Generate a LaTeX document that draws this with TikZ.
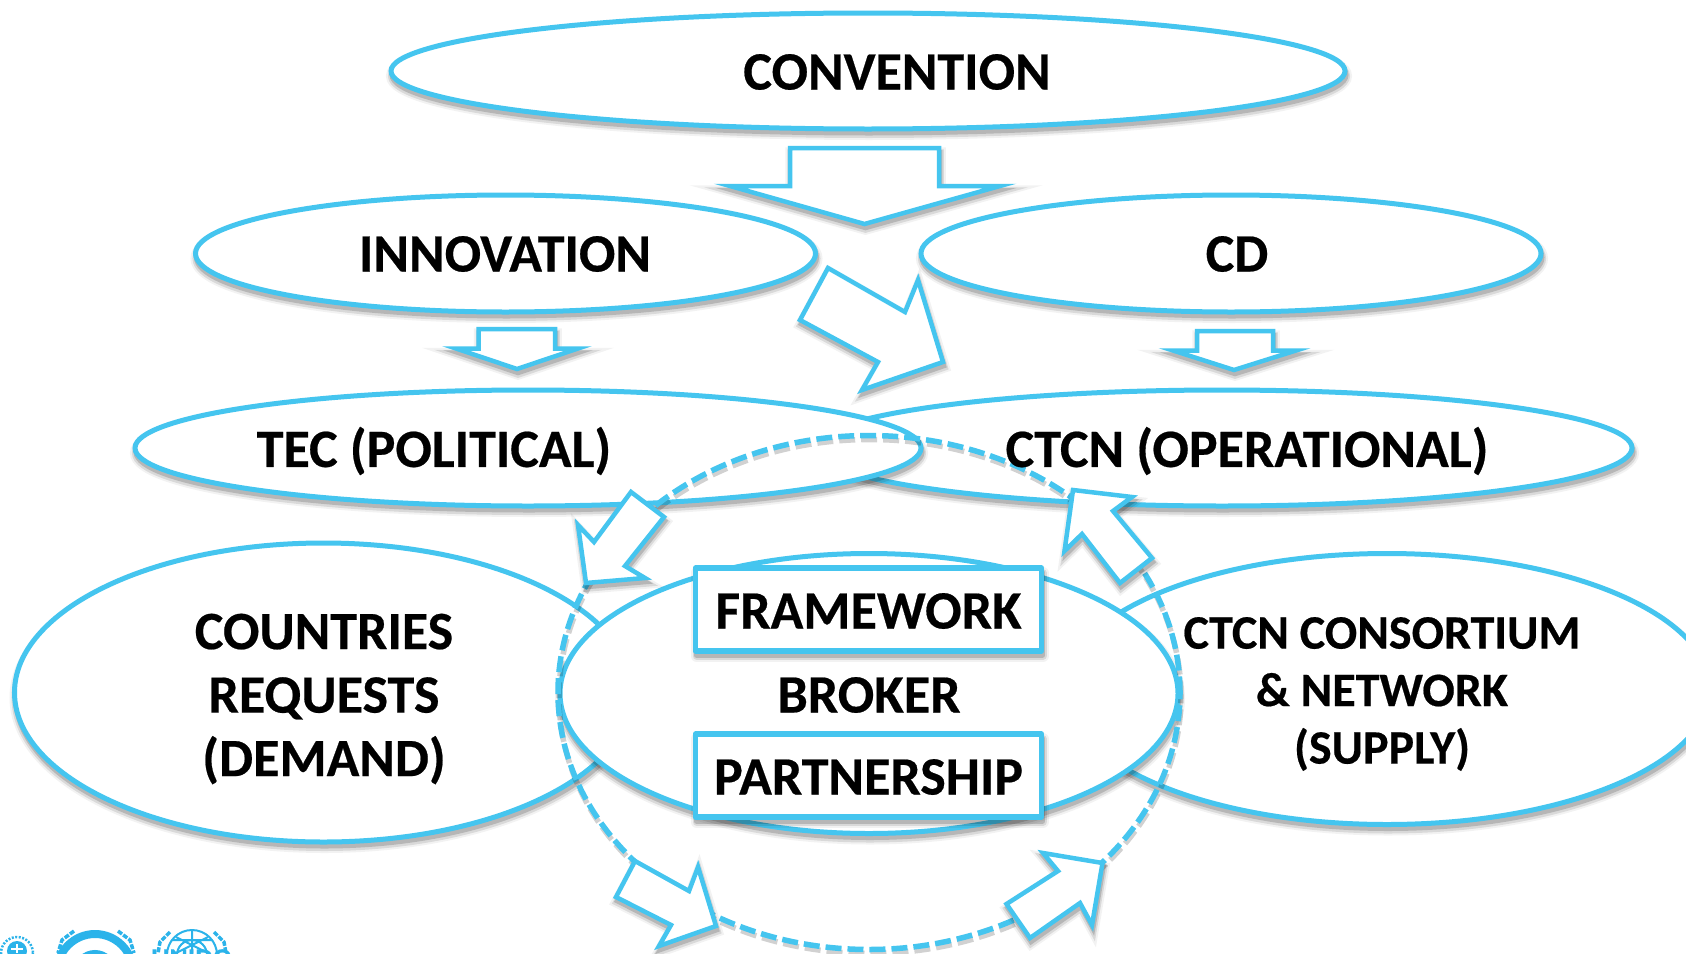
\documentclass[tikz,border=0pt]{standalone}
\usepackage{fontspec}
\setmainfont[BoldFeatures={FakeBold=0.4}]{Carlito}
\usetikzlibrary{shapes.geometric}
\definecolor{sky}{HTML}{45C5EF}
\definecolor{logoblue}{HTML}{2BB3EA}
\tikzset{
  softshadow/.style={
    preaction={draw=black,draw opacity=.05,line width=#1+7,transform canvas={xshift=1pt,yshift=-5pt}},
    preaction={draw=black,draw opacity=.10,line width=#1+3,transform canvas={xshift=1pt,yshift=-5pt}},
    preaction={draw=black,draw opacity=.16,line width=#1,transform canvas={xshift=1pt,yshift=-4pt}}},
  oval/.style={shape=ellipse,inner sep=0pt,outer sep=0pt,softshadow=5,fill=white,draw=sky,line width=5pt},
  framebox/.style={shape=rectangle,inner sep=0pt,outer sep=0pt,softshadow=5,fill=white,draw=sky,line width=5.5pt,line join=round,minimum width=346pt,minimum height=83pt},
  ring/.style={shape=ellipse,inner sep=0pt,outer sep=0pt,draw=sky,line width=5.5pt,dash pattern=on 16pt off 6pt,
     preaction={draw=black,draw opacity=.18,line width=5.5pt,dash pattern=on 16pt off 6pt,transform canvas={xshift=1pt,yshift=-4pt}}},
  blockarrow/.style={softshadow=4.5,fill=white,draw=sky,line width=4.5pt,line join=miter},
  lab/.style={font=\fontsize{54}{63.5}\selectfont\bfseries,text=black,align=center,inner sep=0pt},
  labsmall/.style={font=\fontsize{48}{57.5}\selectfont\bfseries,text=black,align=center,inner sep=0pt},
  logoline/.style={draw=logoblue,line width=2.5pt,fill=none}
}
\begin{document}
\begin{tikzpicture}[x=1pt,y=-1pt]
\clip (0,0) rectangle (1686,953);
\fill[white] (0,0) rectangle (1686,953);
% top level
\node[oval,minimum width=954pt,minimum height=116pt] (convention) at (868,71) {};
\draw[blockarrow] (790,148) -- (939,148) -- (939,186) -- (1000,186) -- (864.5,224) -- (730,186) -- (790,186) -- cycle;
\node[oval,minimum width=620pt,minimum height=117pt] (innovation) at (505.5,253.5) {};
\node[oval,minimum width=620pt,minimum height=117pt] (cd) at (1231,253.5) {};
\draw[blockarrow] (828,268) -- (905,312) -- (918,280) -- (943,362) -- (862,390) -- (878,362) -- (800,320) -- cycle;
\draw[blockarrow] (478.5,329) -- (555,329) -- (555,348.5) -- (578,348.5) -- (517,369) -- (456,348.5) -- (478.5,348.5) -- cycle;
\draw[blockarrow] (1197,331) -- (1273,331) -- (1273,350.5) -- (1296,350.5) -- (1234,370) -- (1173,350.5) -- (1197,350.5) -- cycle;
% middle level
\node[oval,minimum width=820pt,minimum height=116pt] (ctcn) at (1222,448) {};
\node[oval,minimum width=786pt,minimum height=116pt] (tec) at (528,448) {};
% bottom level
\node[oval,minimum width=618pt,minimum height=299pt] (countries) at (323.5,692.5) {};
\node[oval,minimum width=646pt,minimum height=271pt] (consortium) at (1387,689) {};
\node[oval,minimum width=618pt,minimum height=280pt] (broker) at (869,693.5) {};
\node[framebox] (framework) at (868.5,609.5) {};
\node[framebox] (partnership) at (868.5,775.5) {};
\node[ring,minimum width=622pt,minimum height=514pt] (cycle) at (869,692.5) {};
% arrows on the ring
\draw[blockarrow] (631,492) -- (664,517) -- (625,566) -- (645,578) -- (586,583) -- (578,525) -- (594,542) -- cycle;
\draw[blockarrow] (1073,490) -- (1132,497) -- (1113,511) -- (1152,558) -- (1120,583) -- (1082,534) -- (1064.5,551) -- cycle;
\draw[blockarrow] (635,861) -- (689,891) -- (698,867) -- (716,926) -- (659,946) -- (671,925) -- (616,897) -- cycle;
\draw[blockarrow] (1102.5,863) -- (1043,853) -- (1058,871) -- (1006.5,904) -- (1030,938) -- (1080,903) -- (1092,925) -- cycle;
% labels
\node[lab] (tconvention) at (897,72) {CONVENTION};
\node[lab] (tinnovation) at (505,254) {INNOVATION};
\node[lab] (tcd) at (1237,254) {CD};
\node[lab] (ttec) at (434,451) {TEC (POLITICAL)};
\node[lab] (tctcn) at (1247,451) {CTCN (OPERATIONAL)};
\node[lab] (tcountries) at (324,699) {COUNTRIES\\REQUESTS\\(DEMAND)};
\node[labsmall] (tconsortium) at (1382,694) {CTCN CONSORTIUM\\\& NETWORK\\(SUPPLY)};
\node[lab] (tbroker) at (869,695) {BROKER};
\node[lab] (tframework) at (868.5,611) {FRAMEWORK};
\node[lab] (tpartnership) at (868.5,777) {PARTNERSHIP};
% logos, cut by the lower edge
\draw[logoline,dash pattern=on 2pt off 1.5pt] (17,953) circle[radius=16];
\fill[logoblue] (17,951) circle[radius=10];
\draw[white,line width=1.5pt] (17,944) -- (17,953) (11,949) -- (23,949);
\draw[logoblue,line width=8pt] (95,972) circle[radius=38];
\draw[logoblue,line width=6pt] (95,972) circle[radius=19];
\fill[white] (95,972) -- ++(30,-18) -- ++(30,0) -- ++(0,40) -- cycle;
\draw[logoline,line width=3.5pt,dash pattern=on 5pt off 1.5pt] (74,931) -- (62,940) -- (58,953);
\draw[logoline,line width=3.5pt,dash pattern=on 5pt off 1.5pt] (118,931) -- (130,940) -- (134,953);
\draw[logoline,line width=2pt] (192,955) circle[radius=25];
\draw[logoline,line width=2pt] (192,955) circle[radius=15];
\draw[logoline,line width=2pt] (192,930) -- (192,953) (172,940) -- (212,940) (176,937) -- (208,953) (208,937) -- (176,953);
\draw[logoline,line width=3.5pt,dash pattern=on 5pt off 1.5pt] (170,932) -- (160,942) -- (158,953);
\draw[logoline,line width=3.5pt,dash pattern=on 5pt off 1.5pt] (214,932) -- (224,942) -- (226,953);
\node[anchor=north,inner sep=0pt,text=logoblue,font=\fontsize{28}{30}\selectfont\bfseries] (unido) at (191.5,949) {UNIDO};
\end{tikzpicture}
\end{document}
